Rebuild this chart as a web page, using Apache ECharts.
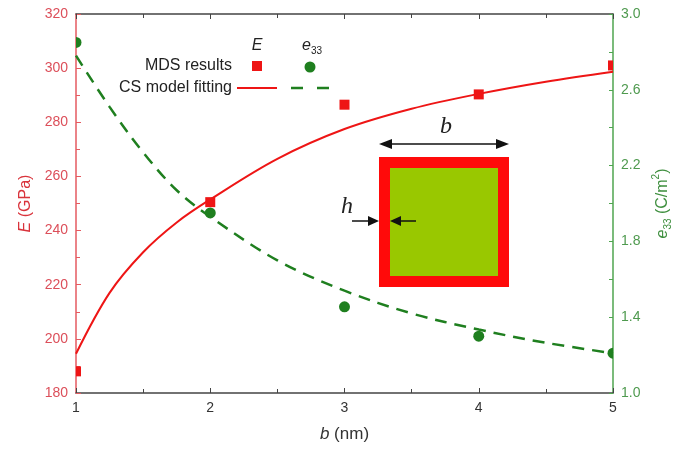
<!DOCTYPE html>
<html>
<head>
<meta charset="utf-8">
<script src="https://cdn.jsdelivr.net/npm/echarts@6/dist/echarts.min.js"></script>
<style>html,body{margin:0;padding:0;background:#fff;}#c{width:687px;height:451px;}</style>
</head>
<body>
<div id="c"></div>
<script>
// Data
var sizes = [1, 2, 3, 4, 5];                 // b (nm)
var mdsE = [188, 250.5, 286.5, 290.3, 301];   // E (GPa), MDS results
var mdsE33 = [2.85, 1.95, 1.455, 1.30, 1.21]; // e33 (C/m^2), MDS results
var fitB = [1, 1.25, 1.5, 1.75, 2, 2.5, 3, 3.5, 4, 4.5, 5];
var fitE = [194.5, 217, 232, 243, 251.5, 266.5, 277.5, 285, 290.5, 295, 298.7];
var fitE33 = [2.78, 2.51, 2.27, 2.07, 1.93, 1.70, 1.54, 1.42, 1.335, 1.265, 1.21];
var leftTicks = [180, 200, 220, 240, 260, 280, 300, 320];
var rightTicks = [1.0, 1.4, 1.8, 2.2, 2.6, 3.0];

function pairs(xs, ys) { return xs.map(function (x, i) { return [x, ys[i]]; }); }

var RED = '#ee1515', GREEN = '#1f7f1f';
var chart = echarts.init(document.getElementById('c'));
var font = 'Arial, "Liberation Sans", sans-serif';

function squareItem(params, api) {
  var p = api.coord([api.value(0), api.value(1)]);
  return { type: 'rect', shape: { x: p[0] - 5, y: p[1] - 5, width: 10, height: 10 }, style: { fill: RED } };
}
function circleItem(params, api) {
  var p = api.coord([api.value(0), api.value(1)]);
  return { type: 'circle', shape: { cx: p[0], cy: p[1], r: 5.5 }, style: { fill: GREEN } };
}

chart.setOption({
  animation: false,
  backgroundColor: '#fff',
  grid: { left: 76, right: 74, top: 14, bottom: 58, containLabel: false },
  xAxis: [{
    type: 'value', min: 1, max: 5, interval: 1, position: 'bottom',
    name: '{i|b} (nm)', nameLocation: 'middle', nameGap: 33,
    nameTextStyle: { fontSize: 17, color: '#333', fontFamily: font,
      rich: { i: { fontStyle: 'italic', fontSize: 17, color: '#333', fontFamily: font } } },
    axisLine: { lineStyle: { color: '#444', width: 1.5 } },
    axisTick: { inside: true, length: 5, lineStyle: { color: '#444' } },
    minorTick: { show: true, splitNumber: 2, length: 4, lineStyle: { color: '#444' } },
    axisLabel: { color: '#333', fontSize: 14, fontFamily: font, margin: 8 },
    splitLine: { show: false }
  }, {
    type: 'value', min: 1, max: 5, interval: 1, position: 'top',
    axisLine: { lineStyle: { color: '#444', width: 1.5 } },
    axisTick: { inside: true, length: 5, lineStyle: { color: '#444' } },
    minorTick: { show: true, splitNumber: 2, length: 4, lineStyle: { color: '#444' } },
    axisLabel: { show: false },
    splitLine: { show: false }
  }],
  yAxis: [{
    type: 'value', min: leftTicks[0], max: leftTicks[leftTicks.length - 1], interval: 20, position: 'left',
    name: '{i|E} (GPa)', nameLocation: 'middle', nameGap: 40, nameRotate: 90,
    nameTextStyle: { fontSize: 16, color: '#d9343c', fontFamily: font,
      rich: { i: { fontStyle: 'italic', fontSize: 16, color: '#d9343c', fontFamily: font } } },
    axisLine: { lineStyle: { color: '#e45a60', width: 1.5 } },
    axisTick: { inside: true, length: 5, lineStyle: { color: '#e45a60' } },
    minorTick: { show: true, splitNumber: 2, length: 4, lineStyle: { color: '#e45a60' } },
    axisLabel: { color: '#dc4f5a', fontSize: 14, fontFamily: font, margin: 8 },
    splitLine: { show: false }
  }, {
    type: 'value', min: rightTicks[0], max: rightTicks[rightTicks.length - 1], interval: 0.2, position: 'right',
    name: '{i|e}{sub|33} (C/m{sup|2})', nameLocation: 'middle', nameGap: 38, nameRotate: 90,
    nameTextStyle: { fontSize: 16, color: '#3f8f3f', fontFamily: font, lineHeight: 22,
      rich: {
        i: { fontStyle: 'italic', fontSize: 16, color: '#3f8f3f', fontFamily: font, lineHeight: 22 },
        sub: { fontSize: 10, color: '#3f8f3f', fontFamily: font, verticalAlign: 'bottom', lineHeight: 22 },
        sup: { fontSize: 10, color: '#3f8f3f', fontFamily: font, verticalAlign: 'top', lineHeight: 22 }
      } },
    axisLine: { lineStyle: { color: '#4fa54f', width: 1.5 } },
    axisTick: { inside: true, length: 4, lineStyle: { color: '#4fa54f' } },
    axisLabel: { color: '#4f9a4f', fontSize: 14, fontFamily: font, margin: 8,
      formatter: function (v) {
        var k = Math.round((v - rightTicks[0]) * 10);
        return (k % 4 === 0) ? v.toFixed(1) : '';
      } },
    splitLine: { show: false }
  }],
  series: [{
    type: 'line', name: 'CS model fitting E', xAxisIndex: 0, yAxisIndex: 0,
    data: pairs(fitB, fitE), smooth: 0.35, showSymbol: false, symbol: 'none',
    lineStyle: { color: RED, width: 2 }, z: 3
  }, {
    type: 'line', name: 'CS model fitting e33', xAxisIndex: 0, yAxisIndex: 1,
    data: pairs(fitB, fitE33), smooth: 0.35, showSymbol: false, symbol: 'none',
    lineStyle: { color: GREEN, width: 2.5, type: [12, 8] }, z: 2
  }, {
    type: 'custom', name: 'MDS E', xAxisIndex: 0, yAxisIndex: 0,
    data: pairs(sizes, mdsE), renderItem: squareItem, clip: true, z: 4
  }, {
    type: 'custom', name: 'MDS e33', xAxisIndex: 0, yAxisIndex: 1,
    data: pairs(sizes, mdsE33), renderItem: circleItem, clip: true, z: 5
  }],
  graphic: [
    // legend
    { type: 'text', z: 10, style: { text: 'MDS results', x: 232, y: 66, align: 'right', verticalAlign: 'middle', textAlign: 'right', textVerticalAlign: 'middle', font: '16px Arial, "Liberation Sans", sans-serif', fill: '#222' } },
    { type: 'text', z: 10, style: { text: 'CS model fitting', x: 232, y: 88, align: 'right', verticalAlign: 'middle', textAlign: 'right', textVerticalAlign: 'middle', font: '16px Arial, "Liberation Sans", sans-serif', fill: '#222' } },
    { type: 'text', z: 10, style: { text: 'E', x: 257, y: 46, align: 'center', verticalAlign: 'middle', textAlign: 'center', textVerticalAlign: 'middle', font: 'italic 16px Arial, "Liberation Sans", sans-serif', fill: '#222' } },
    { type: 'text', z: 10, style: { text: '{i|e}{s|33}', x: 312, y: 46, align: 'center', verticalAlign: 'middle', textAlign: 'center', textVerticalAlign: 'middle',
      rich: { i: { font: 'italic 16px Arial, "Liberation Sans", sans-serif', fill: '#222', lineHeight: 20 },
              s: { font: '10px Arial, "Liberation Sans", sans-serif', fill: '#222', verticalAlign: 'bottom', lineHeight: 20 } } } },
    { type: 'rect', z: 10, shape: { x: 252, y: 61, width: 10, height: 10 }, style: { fill: RED } },
    { type: 'circle', z: 10, shape: { cx: 310, cy: 67, r: 5.5 }, style: { fill: GREEN } },
    { type: 'line', z: 10, shape: { x1: 237, y1: 88, x2: 277, y2: 88 }, style: { stroke: RED, lineWidth: 2 } },
    { type: 'line', z: 10, shape: { x1: 291, y1: 88, x2: 331, y2: 88 }, style: { stroke: GREEN, lineWidth: 2.5, lineDash: [12, 14] } },
    // inset: core-shell cross-section
    { type: 'rect', z: 6, shape: { x: 379, y: 157, width: 130, height: 130 }, style: { fill: '#ff0a0a' } },
    { type: 'rect', z: 7, shape: { x: 390, y: 168, width: 108, height: 108 }, style: { fill: '#99c800' } },
    { type: 'line', z: 7, shape: { x1: 388, y1: 144, x2: 500, y2: 144 }, style: { stroke: '#111', lineWidth: 1.5 } },
    { type: 'polygon', z: 7, shape: { points: [[379, 144], [392, 139], [392, 149]] }, style: { fill: '#111' } },
    { type: 'polygon', z: 7, shape: { points: [[509, 144], [496, 139], [496, 149]] }, style: { fill: '#111' } },
    { type: 'text', z: 7, style: { text: 'b', x: 446, y: 127, align: 'center', verticalAlign: 'middle', textAlign: 'center', textVerticalAlign: 'middle', font: 'italic 24px "Liberation Serif", "DejaVu Serif", serif', fill: '#222' } },
    { type: 'line', z: 7, shape: { x1: 352, y1: 221, x2: 371, y2: 221 }, style: { stroke: '#111', lineWidth: 1.5 } },
    { type: 'polygon', z: 7, shape: { points: [[379, 221], [368, 216], [368, 226]] }, style: { fill: '#111' } },
    { type: 'line', z: 8, shape: { x1: 398, y1: 221, x2: 416, y2: 221 }, style: { stroke: '#111', lineWidth: 1.5 } },
    { type: 'polygon', z: 8, shape: { points: [[390, 221], [401, 216], [401, 226]] }, style: { fill: '#111' } },
    { type: 'text', z: 7, style: { text: 'h', x: 347, y: 207, align: 'center', verticalAlign: 'middle', textAlign: 'center', textVerticalAlign: 'middle', font: 'italic 24px "Liberation Serif", "DejaVu Serif", serif', fill: '#222' } }
  ]
});
</script>
</body>
</html>
